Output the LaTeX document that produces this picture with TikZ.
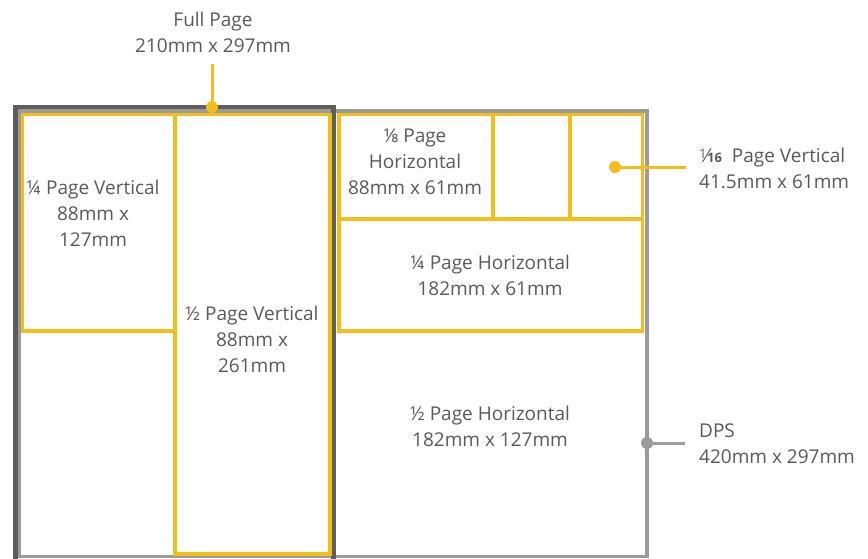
\documentclass[tikz,border=0pt]{standalone}
\usepackage{fontspec}
\setmainfont{Open Sans}
\definecolor{ylw}{HTML}{F2BE1A}
\definecolor{dgray}{HTML}{5E5E5E}
\definecolor{lgray}{HTML}{9B9B9B}
\definecolor{txt}{HTML}{595959}
\newcommand{\sixteenth}{{\fontsize{13}{13}\selectfont\raisebox{0.55ex}{1}}\kern-0.05em⁄\kern-0.05em{\fontsize{13}{13}\selectfont\textbf{16}}}
\begin{document}
\begin{tikzpicture}[x=1pt,y=-1pt,
  lbl/.style={text=txt,font=\fontsize{19}{26}\selectfont,align=center,inner sep=0pt},
  lbll/.style={text=txt,font=\fontsize{19}{26}\selectfont,align=left,inner sep=0pt,anchor=west},
  ybox/.style={draw=ylw,line width=3.5pt},
  ydot/.style={circle,fill=ylw,inner sep=0pt,minimum size=12pt},
  gdot/.style={circle,fill=lgray,inner sep=0pt,minimum size=12pt}]
\useasboundingbox (0,0) rectangle (868,558);
\clip (0,0) rectangle (868,558);
% DPS
\draw[lgray,line width=3.5pt] (19.5,111) rectangle (647,556.5);
% Full page
\draw[dgray,line width=4.5pt] (15.5,570) -- (15.5,107) -- (333.5,107) -- (333.5,570);
% yellow boxes
\draw[ybox] (22.5,114.5) rectangle (175,331);
\draw[ybox] (175,114.5) rectangle (330,554);
\draw[ybox] (339,114.5) rectangle (642.5,331);
\draw[ybox] (339,219) -- (642.5,219);
\draw[ybox] (493,114.5) -- (493,219);
\draw[ybox] (570,114.5) -- (570,219);
% labels inside
\node[lbl] (qv) at (93,213) {¼ Page Vertical\\88mm x\\127mm};
\node[lbl] (hv) at (252,339) {½ Page Vertical\\88mm x\\261mm};
\node[lbl] (eh) at (415,162) {⅛ Page\\Horizontal\\88mm x 61mm};
\node[lbl] (qh) at (490,275.5) {¼ Page Horizontal\\182mm x 61mm};
\node[lbl] (hh) at (490,426) {½ Page Horizontal\\182mm x 127mm};
% callouts
\node[ydot] (fpd) at (212,107) {};
\coordinate (fpt) at (212,64);
\draw[ylw,line width=3pt] (fpt) -- (fpd);
\node[lbl] (fp) at (213,32.5) {Full Page\\210mm x 297mm};
\node[ydot] (sd) at (615,167) {};
\coordinate (se) at (686,167);
\draw[ylw,line width=3pt] (sd) -- (se);
\node[lbll] (sl) at (699,168) {\sixteenth\ \ Page Vertical\\41.5mm x 61mm};
\node[gdot] (dd) at (647,443) {};
\coordinate (de) at (685,443);
\draw[lgray,line width=3pt] (dd) -- (de);
\node[lbll] (dl) at (699,443.5) {DPS\\420mm x 297mm};
\end{tikzpicture}
\end{document}
